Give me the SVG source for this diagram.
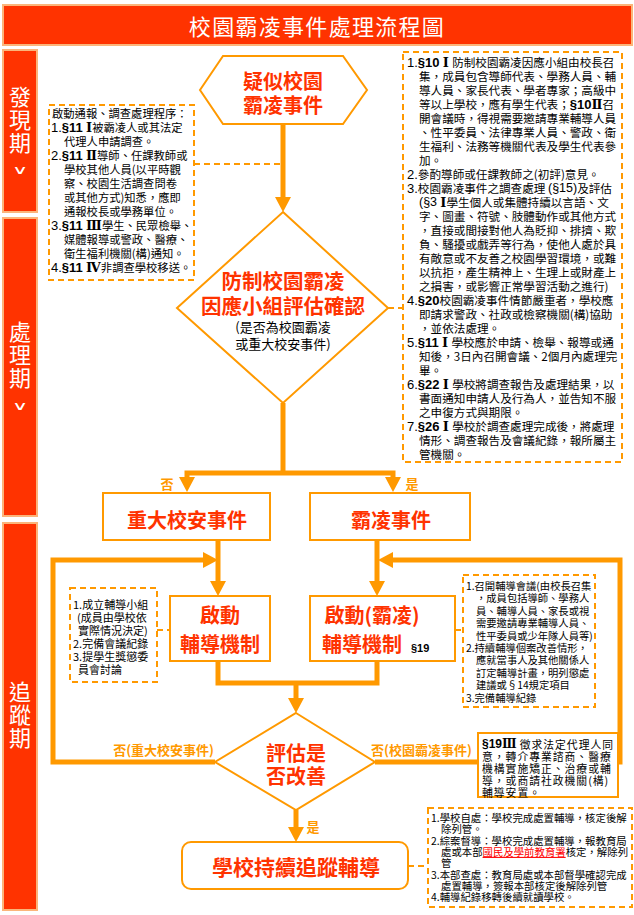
<svg xmlns="http://www.w3.org/2000/svg" width="634" height="915" viewBox="0 0 634 915">
<defs>
<style>
.bar{fill:#FF3300;stroke:#FBB57A;stroke-width:2}
.bt{fill:#fff;font-family:"Noto Sans CJK TC","Noto Sans CJK SC",sans-serif;font-size:22px;text-anchor:middle;dominant-baseline:central}
.vt{fill:#fff;font-family:"Noto Sans CJK TC","Noto Sans CJK SC",sans-serif;font-size:22px;writing-mode:vertical-rl;letter-spacing:1px}
.chev{fill:#fff;font-family:"DejaVu Sans",sans-serif;font-size:20px;text-anchor:middle;dominant-baseline:central}
.node{fill:#fff;stroke:#FF9900;stroke-width:2}
.red{fill:#FF3300;font-family:"Noto Sans CJK TC","Noto Sans CJK SC",sans-serif;font-weight:700;font-size:20px;text-anchor:middle;dominant-baseline:central}
.dbox{fill:#fff;stroke:#FF9900;stroke-width:2;stroke-dasharray:6 4}
.conn{fill:none;stroke:#FF9900;stroke-width:5;stroke-linejoin:miter}
.dconn{fill:none;stroke:#FF9900;stroke-width:2;stroke-dasharray:6 4}
.sm{fill:#000;font-family:"Noto Sans CJK TC","Noto Sans CJK SC",sans-serif;dominant-baseline:central}
.lbl{fill:#FF9900;font-family:"Noto Sans CJK TC","Noto Sans CJK SC",sans-serif;font-weight:700;font-size:13px;dominant-baseline:central}
.n{font-family:"Liberation Sans",Arial,sans-serif}
.b{font-family:"Liberation Sans",Arial,sans-serif;font-weight:700}
.r{font-family:"Liberation Serif","DejaVu Serif",serif;font-weight:700}
.ul{fill:#FF0000;text-decoration:underline}
</style>
<marker id="ah" markerUnits="userSpaceOnUse" markerWidth="16" markerHeight="16" viewBox="0 0 16 16" refX="0" refY="8" orient="auto-start-reverse">
<path d="M0,0 L15,8 L0,16 z" fill="#FF9900"/>
</marker>
</defs>
<rect width="634" height="915" fill="#fff"/>

<g id="title">
<rect class="bar" x="3" y="5" width="629" height="40"/>
<text class="bt" x="317" y="25" style="letter-spacing:1.3px">校園霸凌事件處理流程圖</text>
</g>

<g id="phase-discover">
<rect class="bar" x="3" y="50" width="34" height="162"/>
<text class="vt" x="20" y="86">發現期</text>
<text class="chev" transform="translate(20,170) scale(1.1,0.6)" x="0" y="0">∨</text>
</g>
<g id="phase-handle">
<rect class="bar" x="3" y="218" width="34" height="298"/>
<text class="vt" x="20" y="321">處理期</text>
<text class="chev" transform="translate(20,406) scale(1.1,0.6)" x="0" y="0">∨</text>
</g>
<g id="phase-track">
<rect class="bar" x="3" y="523" width="34" height="387"/>
<text class="vt" x="20" y="681">追蹤期</text>
</g>

<g id="connectors">
<path class="conn" d="M283,124 V197" marker-end="url(#ah)"/>
<path class="conn" d="M283,403 V475"/>
<path class="conn" d="M187,477 V473 H393 V477" marker-start="url(#ah)" marker-end="url(#ah)"/>
<path class="conn" d="M218,540 V581" marker-end="url(#ah)"/>
<path class="conn" d="M377,540 V581" marker-end="url(#ah)"/>
<path class="conn" d="M215,762 H53 V560 H203" marker-end="url(#ah)"/>
<path class="conn" d="M375,762 H620 V560 H393" marker-end="url(#ah)"/>
<path class="conn" d="M218,661 V683 H377 V661"/>
<path class="conn" d="M296,683 V698" marker-end="url(#ah)"/>
<path class="conn" d="M296,810 V827" marker-end="url(#ah)"/>
<path class="dconn" d="M194,164 H281"/>
<path class="dconn" d="M388,308 H403"/>
<path class="dconn" d="M157,630 H170"/>
<path class="dconn" d="M455,630 H463"/>
<path class="dconn" d="M408,866 H428"/>
<text class="lbl" x="167" y="483" text-anchor="middle">否</text>
<text class="lbl" x="412" y="483" text-anchor="middle">是</text>
<text class="lbl" x="214" y="749" text-anchor="end">否(重大校安事件)</text>
<text class="lbl" x="371" y="749">否(校園霸凌事件)</text>
<text class="lbl" x="313" y="826" text-anchor="middle">是</text>
</g>

<g id="suspected">
<polygon class="node" points="200,90 223,56 343,56 367,90 343,124 223,124"/>
<text class="red"><tspan x="283" y="80">疑似校園</tspan><tspan x="283" y="104">霸凌事件</tspan></text>
</g>

<g id="report-note">
<rect class="dbox" x="49" y="105" width="145" height="175"/>
<text class="sm" style="font-size:11.3px">
<tspan x="52" y="113">啟動通報、調查處理程序：</tspan>
<tspan x="51" y="127"><tspan class="n" style="font-size:13px">1.</tspan><tspan class="b" style="font-size:13px">§11</tspan><tspan class="r" style="font-size:13px"> Ⅰ</tspan>被霸凌人或其法定</tspan>
<tspan x="64" y="141">代理人申請調查。</tspan>
<tspan x="51" y="155"><tspan class="n" style="font-size:13px">2.</tspan><tspan class="b" style="font-size:13px">§11</tspan><tspan class="r" style="font-size:13px"> Ⅱ</tspan>導師、任課教師或</tspan>
<tspan x="64" y="169">學校其他人員(以平時觀</tspan>
<tspan x="64" y="183">察、校園生活調查問卷</tspan>
<tspan x="64" y="197">或其他方式)知悉，應即</tspan>
<tspan x="64" y="211">通報校長或學務單位。</tspan>
<tspan x="51" y="225"><tspan class="n" style="font-size:13px">3.</tspan><tspan class="b" style="font-size:13px">§11</tspan><tspan class="r" style="font-size:13px"> Ⅲ</tspan>學生、民眾檢舉、</tspan>
<tspan x="64" y="239">媒體報導或警政、醫療、</tspan>
<tspan x="64" y="253">衛生福利機關(構)通知。</tspan>
<tspan x="51" y="267"><tspan class="n" style="font-size:13px">4.</tspan><tspan class="b" style="font-size:13px">§11</tspan><tspan class="r" style="font-size:13px"> Ⅳ</tspan>非調查學校移送。</tspan>
</text>
</g>

<g id="assess">
<polygon class="node" points="283,212 388,308 283,403 177,308"/>
<text class="red" style="font-size:20.5px"><tspan x="283" y="280">防制校園霸凌</tspan><tspan x="283" y="305">因應小組評估確認</tspan></text>
<text class="sm" text-anchor="middle" style="font-size:13px"><tspan x="283" y="326">(是否為校園霸凌</tspan><tspan x="283" y="343">或重大校安事件)</tspan></text>
</g>

<g id="law-note">
<rect class="dbox" x="403" y="52" width="219" height="410"/>
<text class="sm" style="font-size:11.6px">
<tspan x="407" y="62"><tspan class="n" style="font-size:13px">1.</tspan><tspan class="b" style="font-size:13px">§10</tspan><tspan class="r" style="font-size:13px"> Ⅰ </tspan>防制校園霸凌因應小組由校長召</tspan>
<tspan x="419" y="76">集，成員包含導師代表、學務人員、輔</tspan>
<tspan x="419" y="90">導人員、家長代表、學者專家；高級中</tspan>
<tspan x="419" y="104">等以上學校，應有學生代表；<tspan class="b" style="font-size:13px">§10</tspan><tspan class="r" style="font-size:13px">Ⅱ</tspan>召</tspan>
<tspan x="419" y="118">開會議時，得視需要邀請專業輔導人員</tspan>
<tspan x="419" y="132">、性平委員、法律專業人員、警政、衛</tspan>
<tspan x="419" y="146">生福利、法務等機關代表及學生代表參</tspan>
<tspan x="419" y="160">加。</tspan>
<tspan x="407" y="174"><tspan class="n" style="font-size:13px">2.</tspan>參酌導師或任課教師之(初評)意見。</tspan>
<tspan x="407" y="188"><tspan class="n" style="font-size:13px">3.</tspan>校園霸凌事件之調查處理 <tspan class="n" style="font-size:12.5px">(§15)</tspan>及評估</tspan>
<tspan x="419" y="202"><tspan class="n" style="font-size:12.5px">(§3</tspan><tspan class="r" style="font-size:13px"> Ⅰ</tspan>學生個人或集體持續以言語、文</tspan>
<tspan x="419" y="216">字、圖畫、符號、肢體動作或其他方式</tspan>
<tspan x="419" y="230">，直接或間接對他人為貶抑、排擠、欺</tspan>
<tspan x="419" y="244">負、騷擾或戲弄等行為，使他人處於具</tspan>
<tspan x="419" y="258">有敵意或不友善之校園學習環境，或難</tspan>
<tspan x="419" y="272">以抗拒，產生精神上、生理上或財產上</tspan>
<tspan x="419" y="286">之損害，或影響正常學習活動之進行)</tspan>
<tspan x="407" y="300"><tspan class="n" style="font-size:13px">4.</tspan><tspan class="b" style="font-size:13px">§20</tspan>校園霸凌事件情節嚴重者，學校應</tspan>
<tspan x="419" y="314">即請求警政、社政或檢察機關(構)協助</tspan>
<tspan x="419" y="328">，並依法處理。</tspan>
<tspan x="407" y="342"><tspan class="n" style="font-size:13px">5.</tspan><tspan class="b" style="font-size:13px">§11</tspan><tspan class="r" style="font-size:13px"> Ⅰ </tspan>學校應於申請、檢舉、報導或通</tspan>
<tspan x="419" y="356">知後，3日內召開會議、2個月內處理完</tspan>
<tspan x="419" y="370">畢。</tspan>
<tspan x="407" y="384"><tspan class="n" style="font-size:13px">6.</tspan><tspan class="b" style="font-size:13px">§22</tspan><tspan class="r" style="font-size:13px"> Ⅰ </tspan>學校將調查報告及處理結果，以</tspan>
<tspan x="419" y="398">書面通知申請人及行為人，並告知不服</tspan>
<tspan x="419" y="412">之申復方式與期限。</tspan>
<tspan x="407" y="426"><tspan class="n" style="font-size:13px">7.</tspan><tspan class="b" style="font-size:13px">§26</tspan><tspan class="r" style="font-size:13px"> Ⅰ </tspan>學校於調查處理完成後，將處理</tspan>
<tspan x="419" y="440">情形、調查報告及會議紀錄，報所屬主</tspan>
<tspan x="419" y="454">管機關。</tspan>
</text>
</g>

<g id="major-incident">
<rect class="node" x="103" y="493" width="167" height="47"/>
<text class="red" x="187" y="519">重大校安事件</text>
</g>
<g id="bullying-incident">
<rect class="node" x="310" y="493" width="160" height="47"/>
<text class="red" x="391" y="519">霸凌事件</text>
</g>

<g id="group-note">
<rect class="dbox" x="70" y="588" width="87" height="94"/>
<text class="sm" style="font-size:11px">
<tspan x="73" y="604">1.成立輔導小組</tspan>
<tspan x="77" y="617">(成員由學校依</tspan>
<tspan x="78" y="630">實際情況決定)</tspan>
<tspan x="73" y="643">2.完備會議紀錄</tspan>
<tspan x="73" y="656">3.提學生獎懲委</tspan>
<tspan x="78" y="669">員會討論</tspan>
</text>
</g>

<g id="start-counsel">
<rect class="node" x="170" y="596" width="100" height="65"/>
<text class="red"><tspan x="220" y="614">啟動</tspan><tspan x="220" y="643">輔導機制</tspan></text>
</g>

<g id="start-bully-counsel">
<rect class="node" x="310" y="596" width="145" height="65"/>
<text class="red"><tspan x="372" y="614">啟動(霸凌)</tspan><tspan x="362" y="643">輔導機制</tspan></text>
<text class="sm" x="411" y="648" style="font-size:11px;font-weight:700;font-family:'Liberation Sans',Arial,sans-serif">§19</text>
</g>

<g id="meeting-note">
<rect class="dbox" x="463" y="575" width="132" height="132"/>
<text class="sm" style="font-size:10.3px">
<tspan x="466" y="585">1.召開輔導會議(由校長召集</tspan>
<tspan x="476" y="597.4">，成員包括導師、學務人</tspan>
<tspan x="476" y="609.8">員、輔導人員、家長或視</tspan>
<tspan x="476" y="622.2">需要邀請專業輔導人員、</tspan>
<tspan x="476" y="634.6">性平委員或少年隊人員等)</tspan>
<tspan x="466" y="647">2.持續輔導個案改善情形，</tspan>
<tspan x="476" y="659.4">應就當事人及其他關係人</tspan>
<tspan x="476" y="671.8">訂定輔導計畫，明列懲處</tspan>
<tspan x="476" y="684.2">建議或§14規定項目</tspan>
<tspan x="466" y="696.6">3.完備輔導紀錄</tspan>
</text>
</g>

<g id="evaluate">
<polygon class="node" points="296,713 375,762 296,810 215,762"/>
<text class="red"><tspan x="296" y="752">評估是</tspan><tspan x="296" y="775">否改善</tspan></text>
</g>

<g id="referral-note">
<rect class="node" x="478" y="733" width="140" height="64"/>
<text class="sm" style="font-size:10.8px;letter-spacing:1px">
<tspan x="482" y="743.5"><tspan class="b" style="font-size:12px;letter-spacing:0">§19</tspan><tspan class="r" style="font-size:12px;letter-spacing:0">Ⅲ </tspan>徵求法定代理人同</tspan>
<tspan x="482" y="755.5">意，轉介專業諮商、醫療</tspan>
<tspan x="482" y="767.5">機構實施矯正、治療或輔</tspan>
<tspan x="482" y="779.5">導，或商請社政機關(構)</tspan>
<tspan x="482" y="791.5">輔導安置。</tspan>
</text>
</g>

<g id="follow-up">
<rect class="node" x="182" y="842" width="226" height="47" rx="9"/>
<text class="red" x="296" y="866" style="font-size:21px">學校持續追蹤輔導</text>
</g>

<g id="closure-note">
<rect class="dbox" x="428" y="808" width="204" height="99"/>
<text class="sm" style="font-size:10.4px">
<tspan x="431" y="817">1.學校自處：學校完成處置輔導，核定後解</tspan>
<tspan x="441" y="828.3">除列管。</tspan>
<tspan x="431" y="839.6">2.綜案督導：學校完成處置輔導，報教育局</tspan>
<tspan x="441" y="850.9">處或本部<tspan class="ul">國民及學前教育署</tspan>核定，解除列</tspan>
<tspan x="441" y="862.2">管</tspan>
<tspan x="431" y="873.5">3.本部查處：教育局處或本部督學確認完成</tspan>
<tspan x="441" y="884.8">處置輔導，簽報本部核定後解除列管</tspan>
<tspan x="431" y="896.1">4.輔導紀錄移轉後續就讀學校。</tspan>
</text>
</g>
</svg>
